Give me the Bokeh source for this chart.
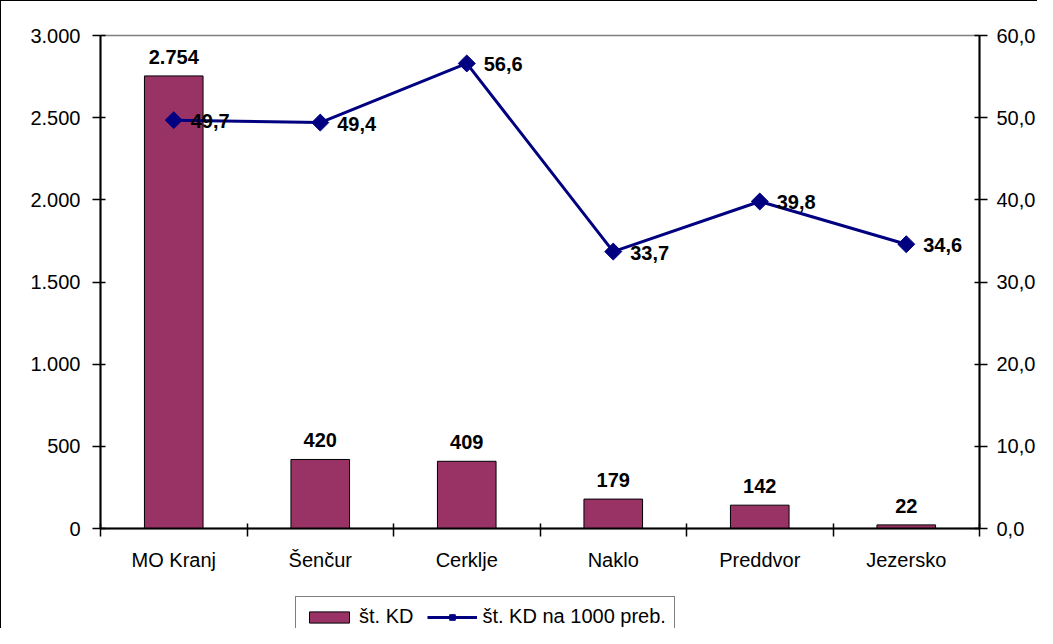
import math
from bokeh.plotting import figure
from bokeh.layouts import column
from bokeh.models import Range1d, LinearAxis, FixedTicker, Legend, LegendItem, ColumnDataSource
from bokeh.core.properties import value
from bokeh.embed import file_html
from bokeh.resources import INLINE

categories = ["MO Kranj", "Šenčur", "Cerklje", "Naklo", "Preddvor", "Jezersko"]
st_kd = [2754, 420, 409, 179, 142, 22]
st_kd_na_1000 = [49.7, 49.4, 56.6, 33.7, 39.8, 34.6]
left_ticks = [0, 500, 1000, 1500, 2000, 2500, 3000]
left_tick_labels = ["0", "500", "1.000", "1.500", "2.000", "2.500", "3.000"]
right_ticks = [0, 10, 20, 30, 40, 50, 60]
right_tick_labels = ["0,0", "10,0", "20,0", "30,0", "40,0", "50,0", "60,0"]
series_names = ["št. KD", "št. KD na 1000 preb."]

FONT = "Liberation Sans"
FS = "20px"
BAR_COLOR = "#993366"
LINE_COLOR = "#000080"
BORDER = "1.5px solid black"


def fmt_int(v):
    return f"{v:,}".replace(",", ".")


def fmt_dec(v):
    return f"{v:.1f}".replace(".", ",")


xs = [i + 0.5 for i in range(len(categories))]
src = ColumnDataSource(dict(
    x=xs,
    kd=st_kd,
    rate=st_kd_na_1000,
    kd_lbl=[fmt_int(v) for v in st_kd],
    rate_lbl=[fmt_dec(v) for v in st_kd_na_1000],
))

W = 1037
p = figure(width=W, height=590, output_backend="svg", toolbar_location=None,
           x_range=Range1d(0, len(categories)), y_range=Range1d(left_ticks[0], left_ticks[-1]),
           min_border_left=99, min_border_top=34, min_border_right=W - 979, min_border_bottom=63)
p.extra_y_ranges = {"rate": Range1d(right_ticks[0], right_ticks[-1])}
p.styles = {"border-top": BORDER, "border-left": BORDER}
p.xgrid.visible = False
p.ygrid.visible = False
p.outline_line_color = "#808080"
p.outline_line_width = 1.5
p.background_fill_color = "white"
p.border_fill_color = "white"


def style_axis(ax):
    ax.axis_line_color = "black"
    ax.axis_line_width = 2
    ax.major_tick_line_color = "black"
    ax.major_tick_line_width = 1.5
    ax.major_label_text_font = FONT
    ax.major_label_text_font_size = FS
    ax.major_label_text_color = "black"
    ax.minor_tick_line_color = None


# x axis
xa = p.xaxis[0]
style_axis(xa)
xa.ticker = FixedTicker(ticks=xs, minor_ticks=list(range(len(categories) + 1)))
xa.major_label_overrides = {x: c for x, c in zip(xs, categories)}
xa.major_tick_line_color = None
xa.major_tick_in = 0
xa.major_tick_out = 8
xa.minor_tick_line_color = "black"
xa.minor_tick_line_width = 1.5
xa.minor_tick_in = 5
xa.minor_tick_out = 8
xa.major_label_standoff = 12

# left axis
ya = p.yaxis[0]
style_axis(ya)
ya.ticker = FixedTicker(ticks=left_ticks)
ya.major_label_overrides = {t: l for t, l in zip(left_ticks, left_tick_labels)}
ya.major_tick_in = 5
ya.major_tick_out = 8
ya.major_label_standoff = 12

# right axis
ra = LinearAxis(y_range_name="rate")
style_axis(ra)
ra.ticker = FixedTicker(ticks=right_ticks)
ra.major_label_overrides = {t: l for t, l in zip(right_ticks, right_tick_labels)}
ra.major_tick_in = 5
ra.major_tick_out = 8
ra.major_label_standoff = 9
p.add_layout(ra, "right")

bar_kw = dict(fill_color=BAR_COLOR, line_color="black", line_width=1)
line_kw = dict(line_color=LINE_COLOR, line_width=3)
pt_kw = dict(marker="square", angle=math.pi / 4, size=12, fill_color=LINE_COLOR, line_color=LINE_COLOR)

p.vbar(x="x", top="kd", width=0.4, source=src, **bar_kw)
p.line(x="x", y="rate", source=src, y_range_name="rate", **line_kw)
p.scatter(x="x", y="rate", source=src, y_range_name="rate", **pt_kw)

p.text(x="x", y="kd", text="kd_lbl", source=src, text_align="center", text_baseline="bottom",
       y_offset=-12, text_font=value(FONT), text_font_size=FS, text_font_style="bold",
       text_color="black")
p.text(x="x", y="rate", text="rate_lbl", source=src, y_range_name="rate", text_align="left",
       text_baseline="middle", x_offset=17, y_offset=1, text_font=value(FONT), text_font_size=FS,
       text_font_style="bold", text_color="black")

# legend strip below the chart (hidden copies of the series, only their legend entries show)
lf = figure(width=W, height=38, output_backend="svg", toolbar_location=None,
            x_range=Range1d(0, len(categories)), y_range=Range1d(left_ticks[0], left_ticks[-1]),
            x_axis_location=None, y_axis_location=None,
            min_border_left=0, min_border_right=0, min_border_top=0, min_border_bottom=0)
lf.styles = {"border-left": BORDER}
lf.xgrid.visible = False
lf.ygrid.visible = False
lf.outline_line_color = None
lb = lf.vbar(x="x", top="kd", width=0.4, source=src, visible=False, **bar_kw)
ll = lf.line(x="x", y="rate", source=src, visible=False, **line_kw)
lp = lf.scatter(x="x", y="rate", source=src, visible=False, **pt_kw)

legend = Legend(items=[LegendItem(label=series_names[0], renderers=[lb]),
                       LegendItem(label=series_names[1], renderers=[ll, lp])],
                orientation="horizontal", location=(195, -9),
                border_line_color="black", border_line_width=1.5,
                label_text_font=FONT, label_text_font_size=FS, label_text_color="black",
                glyph_width=50, glyph_height=14, spacing=14, padding=8,
                label_standoff=5, margin=0, background_fill_color="white",
                inactive_fill_alpha=0)
lf.add_layout(legend)

layout = column(p, lf, spacing=0)
open("out.html", "w").write(file_html(layout, INLINE))
